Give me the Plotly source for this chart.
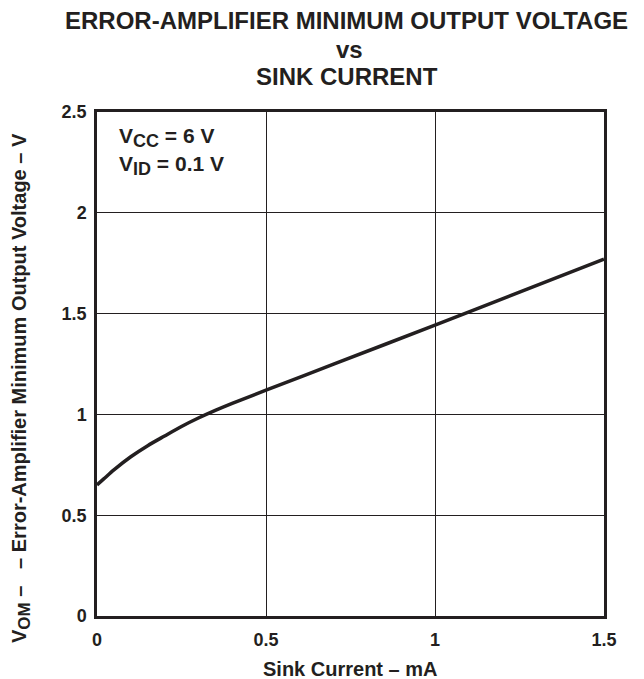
import plotly.graph_objects as go

sink_current_ma = [0, 0.02, 0.05, 0.1, 0.15, 0.2, 0.25, 0.3, 0.35, 0.4, 0.5, 0.7, 1.0, 1.25, 1.5]
vom_v = [0.65, 0.68, 0.725, 0.79, 0.845, 0.893, 0.94, 0.982, 1.02, 1.055, 1.12, 1.249, 1.443, 1.606, 1.77]

x_ticks = [0, 0.5, 1, 1.5]
x_tick_labels = ["0", "0.5", "1", "1.5"]
y_ticks = [0, 0.5, 1, 1.5, 2, 2.5]
y_tick_labels = ["0", "0.5", "1", "1.5", "2", "2.5"]

FONT = "Liberation Sans, Arial, sans-serif"
INK = "#231f20"

# page body has an 8px margin: figure placed at (8, 8)
W, H = 636, 671
PL, PR, PT, PB = 97, 604, 112, 616  # plot area in window pixels


def px(x):
    return (x - PL) / (PR - PL)


def py(y):
    return (PB - y) / (PB - PT)


def sub(t, size):
    return f"<sub><span style='font-size:{size}px'>{t}</span></sub>"


fig = go.Figure()
fig.add_trace(go.Scatter(
    x=sink_current_ma, y=vom_v, mode="lines",
    line=dict(color=INK, width=3.5, shape="spline", smoothing=0.8),
    hoverinfo="skip", showlegend=False,
))

fig.update_layout(
    width=W, height=H,
    margin=dict(l=PL - 8, r=W - (PR - 8), t=PT - 8, b=H - (PB - 8)),
    paper_bgcolor="white", plot_bgcolor="white",
    font=dict(family=FONT, color=INK),
    showlegend=False,
)
fig.update_xaxes(
    range=[0, 1.5], tickvals=x_ticks, ticktext=[f"<b>{t}</b>" for t in x_tick_labels],
    tickfont=dict(size=18), showgrid=True, gridcolor=INK, gridwidth=1,
    showline=True, linecolor=INK, linewidth=2.5, mirror=True,
    ticks="", zeroline=False, ticklabelstandoff=6,
)
fig.update_yaxes(
    range=[0, 2.5], tickvals=y_ticks, ticktext=[f"<b>{t}</b>" for t in y_tick_labels],
    tickfont=dict(size=18), showgrid=True, gridcolor=INK, gridwidth=1,
    showline=True, linecolor=INK, linewidth=2.5, mirror=True,
    ticks="", zeroline=False, ticklabelstandoff=4,
)

anns = [
    dict(text="<b>ERROR-AMPLIFIER MINIMUM OUTPUT VOLTAGE</b>", x=346, y=21, size=24),
    dict(text="<b>vs</b>", x=349, y=49.5, size=24),
    dict(text="<b>SINK CURRENT</b>", x=347, y=76.5, size=24),
    dict(text="<b>Sink Current – mA</b>", x=350, y=669, size=20),
]
for a in anns:
    fig.add_annotation(
        text=a["text"], xref="paper", yref="paper",
        x=px(a["x"]), y=py(a["y"]),
        xanchor="center", yanchor="middle", showarrow=False,
        font=dict(size=a["size"], family=FONT, color=INK),
    )

fig.add_annotation(
    text="<b>V" + sub("OM", 17) + " –   – Error-Amplifier Minimum Output Voltage – V</b>",
    xref="paper", yref="paper", x=px(21), y=py(388),
    xanchor="center", yanchor="middle", textangle=-90, showarrow=False,
    font=dict(size=20, family=FONT, color=INK),
)
for txt, yy in [("<b>V" + sub("CC", 18) + " = 6 V</b>", 137),
                ("<b>V" + sub("ID", 18) + " = 0.1 V</b>", 166)]:
    fig.add_annotation(
        text=txt, xref="paper", yref="paper", x=px(117), y=py(yy),
        xanchor="left", yanchor="middle", align="left", showarrow=False,
        font=dict(size=21, family=FONT, color=INK),
    )

fig.write_html("out.html")
